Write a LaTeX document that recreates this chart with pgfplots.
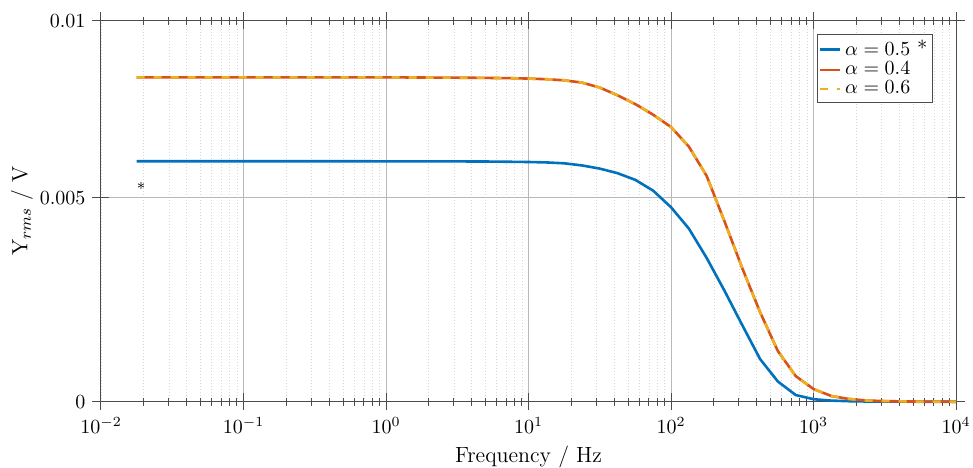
\documentclass[border=0pt]{standalone}
\usepackage{pgfplots}
\usepackage{pgfplotstable}
\pgfplotsset{compat=1.18}
\definecolor{mblue}{rgb}{0,0.447,0.741}
\definecolor{mred}{rgb}{0.85,0.325,0.098}
\definecolor{myellow}{rgb}{0.929,0.694,0.125}
\pgfplotstableread{
f a05 a04 a06
0.017783 0.006032 0.008408 0.008408
0.023714 0.006032 0.008408 0.008408
0.031623 0.006032 0.008408 0.008408
0.042170 0.006032 0.008408 0.008408
0.056234 0.006032 0.008408 0.008408
0.074989 0.006032 0.008408 0.008408
0.1 0.006032 0.008408 0.008408
0.13335 0.006032 0.008408 0.008408
0.17783 0.006032 0.008408 0.008408
0.23714 0.006032 0.008408 0.008408
0.31623 0.006032 0.008408 0.008408
0.42170 0.006032 0.008408 0.008408
0.56234 0.006032 0.008408 0.008408
0.74989 0.006032 0.008408 0.008408
1 0.006031 0.008407 0.008407
1.3335 0.006031 0.008406 0.008406
1.7783 0.006030 0.008404 0.008404
2.3714 0.006029 0.008402 0.008402
3.1623 0.006028 0.008399 0.008399
4.2170 0.006027 0.008396 0.008396
5.6234 0.006024 0.008391 0.008391
7.4989 0.006018 0.008385 0.008385
10 0.006012 0.008374 0.008374
13.335 0.006000 0.008356 0.008356
17.783 0.005975 0.008325 0.008325
23.714 0.005915 0.008260 0.008260
31.623 0.005825 0.008120 0.008120
42.170 0.005695 0.007900 0.007900
56.234 0.005505 0.007650 0.007650
74.989 0.005200 0.007350 0.007350
100 0.004767 0.007002 0.007002
133.35 0.004246 0.006450 0.006450
177.83 0.003526 0.005620 0.005620
237.14 0.002723 0.004425 0.004425
316.23 0.001878 0.003274 0.003274
421.70 0.001046 0.002196 0.002196
562.34 0.000495 0.001241 0.001241
749.89 0.000164 0.000629 0.000629
1000 0.000061 0.000311 0.000311
1333.5 0.000027 0.000140 0.000140
1778.3 0.000012 0.000066 0.000066
2371.4 0.000005 0.000029 0.000029
3162.3 0.000002 0.000015 0.000015
4217.0 0.000001 0.000007 0.000007
5623.4 0.000000 0.000003 0.000003
7498.9 0.000000 0.000001 0.000001
10000 0.000000 0.000000 0.000000
}\datatab
\begin{document}
\begin{tikzpicture}
\begin{axis}[
  at={(0,0)}, anchor=south west,
  scale only axis, width=427.5pt, height=190.5pt,
  xmode=log, xmin=0.01, xmax=10000,
  ymin=0, ymax=0.01,
  y coord trafo/.code={\pgfmathparse{#1-0.1342*max(#1-0.005,0)}},
  scaled y ticks=false,
  ytick={0,0.005,0.01}, yticklabels={$0$,$0.005$,$0.01$},
  xtick={0.01,0.1,1,10,100,1000,10000},
  grid=both,
  major grid style={black!28, line width=0.5pt},
  minor grid style={black!16, line width=0.4pt, dash pattern=on 0.6pt off 0.9pt},
  axis line style={black!70, line width=0.5pt},
  tick style={black!70, line width=0.5pt},
  tick align=center,
  major tick length=8.5pt, minor tick length=4pt,
  xtick pos=both, ytick pos=both,
  clip=false,
  ticklabel style={font=\fontsize{10.3}{12}\selectfont},
  xlabel={Frequency / Hz},
  ylabel={Y$_{rms}$ / V},
  xlabel style={at={(axis description cs:0.5,-0.1583)}, anchor=base, font=\fontsize{11}{13}\selectfont},
  ylabel style={at={(axis description cs:-0.0924,0.5)}, anchor=center, font=\fontsize{11}{13}\selectfont},
  legend style={at={(0.973,0.965)}, anchor=north east, draw=black!70, line width=0.5pt,
    inner xsep=0.5pt, inner ysep=1pt, font=\fontsize{10.3}{12}\selectfont, row sep=-2.5pt,
    cells={anchor=west, inner xsep=0pt},
    /tikz/every even column/.append style={column sep=1.5pt}},
  legend image code/.code={\draw[#1] (0cm,0cm) -- (0.35cm,0cm);},
]
\addplot[mblue, line width=1.3pt] table[x=f, y=a05] {\datatab};
\addlegendentry{$\alpha = 0.5$ *}
\addplot[mred, line width=1.3pt] table[x=f, y=a04] {\datatab};
\addlegendentry{$\alpha = 0.4$}
\addplot[myellow, line width=1.3pt, dash pattern=on 4pt off 4.5pt] table[x=f, y=a06] {\datatab};
\addlegendentry{$\alpha = 0.6$}
\node[font=\footnotesize, anchor=base, inner sep=0pt] at (axis cs:0.0191,0.00508) {*};
\end{axis}
\pgfresetboundingbox
\path (-50.5pt,-32.65pt) rectangle (436pt,200.85pt);
\end{tikzpicture}
\end{document}
